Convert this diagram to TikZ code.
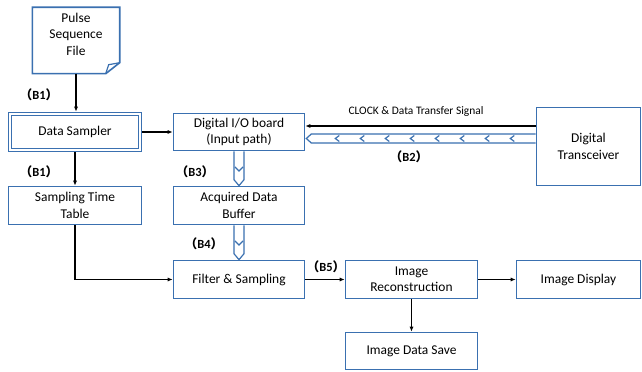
\documentclass[tikz,border=0pt]{standalone}
\usepackage{fontspec}
\setmainfont{Carlito}
\newfontfamily\cjk{Noto Sans CJK SC}
\definecolor{bxblue}{HTML}{3A70B0}
\usetikzlibrary{arrows.meta,positioning,calc}
% band-style (hollow) pipe going down from #1 to #2, with one chevron
\newcommand{\vpipe}[2]{%
  \draw[pipe] ([xshift=-5bp]#1.south) -- ([xshift=-5bp,yshift=6bp]#2.north) -- (#2.north)
    -- ([xshift=5bp,yshift=6bp]#2.north) -- ([xshift=5bp]#1.south);
  \draw[pipe,fill=none] ($(#1.south)!0.57!(#2.north)+(-4bp,4bp)$) -- ($(#1.south)!0.57!(#2.north)$)
    -- ($(#1.south)!0.57!(#2.north)+(4bp,4bp)$);}
\newcommand{\blab}[1]{{\bfseries\cjk （}{\bfseries #1}{\bfseries\cjk ）}}

\begin{document}
\begin{tikzpicture}[
  x=10bp,y=10bp,
  font=\fontsize{13.5}{16.5}\selectfont,
  blk/.style={draw=bxblue,line width=1.6bp,fill=white,align=center,inner sep=2pt},
  doc/.style={align=center,minimum width=87bp,minimum height=66bp,inner sep=2pt},
  pipe/.style={draw=bxblue,line width=1.2bp,fill=white,line join=miter},
  arr/.style={-{Latex[length=5bp,width=4bp]},line width=1.4bp},
  lab/.style={font=\fontsize{12.5}{14}\selectfont,inner sep=0pt}]
\useasboundingbox[fill=white] (0,0) rectangle (64.2,37.2);
% pulse sequence file (page with folded corner)
\node[doc] (psf) at (7.6,33.15) {Pulse\\Sequence\\File\\[-4bp]};
\draw[bxblue,line width=1.6bp,line join=miter] (psf.north west) -- (psf.north east)
  -- ([yshift=11bp]psf.south east) -- ([xshift=-14bp]psf.south east) -- (psf.south west) -- cycle;
\draw[bxblue,line width=1.2bp] ([xshift=-14bp]psf.south east) .. controls ([xshift=-12bp,yshift=5bp]psf.south east) .. ([xshift=-11bp,yshift=9bp]psf.south east)
  -- ([yshift=11bp]psf.south east);
% left column
\node[blk,minimum width=133bp,minimum height=39bp] (ds) at (7.5,24.0) {Data Sampler};
\draw[bxblue,line width=0.9bp] ([shift={(4bp,4bp)}]ds.south west) rectangle ([shift={(-4bp,-4bp)}]ds.north east);
\node[blk,minimum width=133bp,minimum height=38bp] (stt) at (7.5,16.65) {Sampling Time\\Table};
% middle column
\node[blk,minimum width=131bp,minimum height=37bp] (io) at (23.9,24.0) {Digital I/O board\\(Input path)};
\node[blk,minimum width=131bp,minimum height=38bp] (buf) at (23.9,16.65) {Acquired Data\\Buffer};
\node[blk,minimum width=131bp,minimum height=38bp] (flt) at (23.9,9.25) {Filter \& Sampling};
% right part
\node[blk,minimum width=104bp,minimum height=78bp] (xcv) at (58.85,22.55) {Digital\\Transceiver};
\node[blk,minimum width=132bp,minimum height=38bp] (rec) at (41.15,9.25) {Image\\Reconstruction};
\node[blk,minimum width=124bp,minimum height=38bp] (dsp) at (57.85,9.25) {Image Display};
\node[blk,minimum width=132bp,minimum height=37bp] (sav) at (41.15,2.1) {Image Data Save};
% labels
\node[lab] (b1a) at (3.9,27.7) {\blab{B1}};
\node[lab] (b1b) at (3.9,20.0) {\blab{B1}};
\node[lab] (b3) at (19.5,20.0) {\blab{B3}};
\node[lab] (b4) at (20.4,12.8) {\blab{B4}};
\node[lab] (b5) at (32.6,10.5) {\blab{B5}};
\node[lab] (b2) at (40.9,21.5) {\blab{B2}};
\node[font=\fontsize{11.5}{13}\selectfont,inner sep=0pt] (clk) at (41.6,26.0) {CLOCK \& Data Transfer Signal};
% connectors
\draw[arr] (psf.south) -- (psf.south |- ds.north);
\draw[arr] (ds.south) -- (stt.north);
\draw[arr] (ds.east) -- (io.west);
\draw[arr] (stt.south) |- (flt.west);
\draw[arr] (flt.east) -- (rec.west);
\draw[arr] (rec.east) -- (dsp.west);
\draw[arr] (rec.south) -- (sav.north);
\draw[arr] ([yshift=6bp]io.east -| xcv.west) -- ([yshift=6bp]io.east);
% data path (B2)
\draw[pipe] ([yshift=-2bp]io.east -| xcv.west) -- ([xshift=6bp,yshift=-2bp]io.east) -- ([xshift=1bp,yshift=-6.5bp]io.east)
  -- ([xshift=6bp,yshift=-11bp]io.east) -- ([yshift=-11bp]io.east -| xcv.west);
\foreach \d in {30,55,...,205}
  \draw[pipe,fill=none] ($(io.east)+(\d bp+4bp,-3.5bp)$) -- ($(io.east)+(\d bp,-6.5bp)$) -- ($(io.east)+(\d bp+4bp,-9.5bp)$);
\vpipe{io}{buf}
\vpipe{buf}{flt}
\end{tikzpicture}
\end{document}
